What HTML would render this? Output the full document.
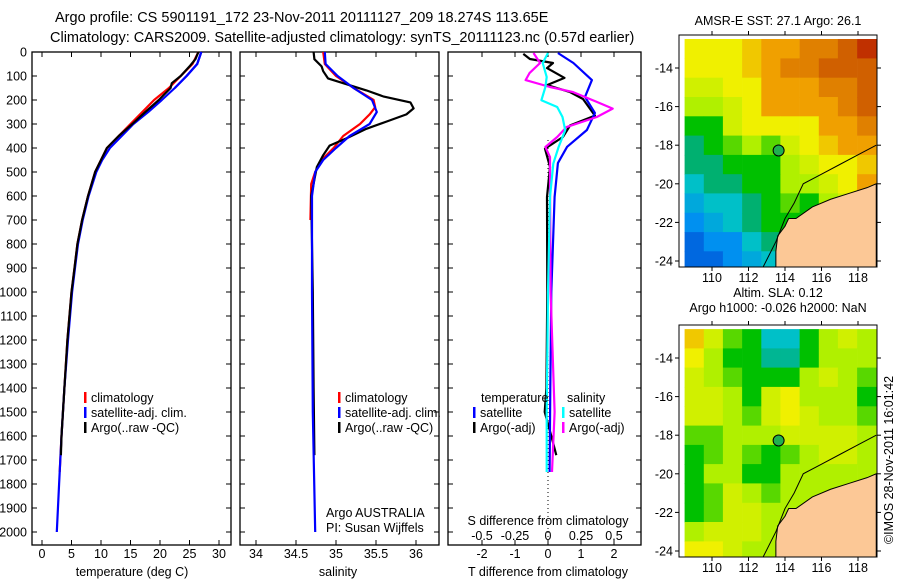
<!DOCTYPE html>
<html><head><meta charset="utf-8"><style>
body{margin:0;background:#fff}
svg{display:block;font-family:"Liberation Sans",sans-serif;font-size:12.5px}
</style></head><body>
<svg id="fig" width="900" height="580" viewBox="0 0 900 580" xmlns="http://www.w3.org/2000/svg">
<rect width="900" height="580" fill="#fff"/>
<text x="55" y="22" font-size="14.5">Argo profile: CS 5901191_172 23-Nov-2011 20111127_209 18.274S 113.65E</text>
<text x="50" y="42" font-size="14.5">Climatology: CARS2009. Satellite-adjusted climatology: synTS_20111123.nc (0.57d earlier)</text>
<g id="plots"></g>
<text transform="translate(893,460) rotate(-90)" text-anchor="middle" font-size="12.5">©IMOS 28-Nov-2011 16:01:42</text>
</svg>
<script>
// ---- profile data ----
const tClimDepth=[0,50,100,150,200,250,300,350,400,450,500,600,700,800,900,1000,1200,1400,1600,1750];
const tClim=[26.5,25.5,23.5,21.5,19,17,15,13,11,10,9,7.8,6.8,6,5.5,5,4.3,3.8,3.3,3.0];
const tSatDepth=[0,50,100,150,200,250,300,350,400,450,500,600,700,800,900,1000,1200,1400,1600,1800,2000];
const tSat=[27,26.3,24.5,22.5,20.3,18,15.5,13.5,11.5,10.2,9.2,7.9,6.9,6.1,5.6,5.1,4.4,3.8,3.3,2.9,2.5];
const tArgoDepth=[0,30,60,100,130,150,200,250,300,350,400,450,500,600,700,800,900,1000,1200,1400,1600,1680];
const tArgo=[26.5,26,25,23.5,22,21.8,19.8,17.5,15.3,13,11,10,9,7.8,6.8,6,5.5,5,4.3,3.8,3.3,3.2];

const sClimDepth=[0,50,100,150,200,230,260,300,350,400,450,500,550,700];
const sClim=[34.84,34.86,35.0,35.22,35.47,35.49,35.42,35.3,35.09,34.97,34.82,34.74,34.69,34.68];
const sSatDepth=[0,50,100,150,200,250,300,350,400,450,500,600,1000,1500,2000];
const sSat=[34.86,34.87,35.02,35.22,35.45,35.51,35.42,35.17,35.0,34.84,34.74,34.7,34.7,34.71,34.74];
const sArgoDepth=[0,30,60,80,110,130,160,185,210,235,260,290,320,360,390,430,480,600,1000,1400,1680];
const sArgo=[34.72,34.73,34.82,34.84,34.9,35.09,35.38,35.59,35.93,35.97,35.88,35.63,35.38,35.13,34.92,34.84,34.76,34.69,34.71,34.72,34.73];

const dTSatDepth=[4,46,117,187,254,325,395,463,604,1000,1400,1750];
const dTSat=[0.3,0.77,1.33,1.12,1.42,1.18,0.58,0.3,0.2,0.1,0.07,0.05];
const dTArgoDepth=[8,29,46,67,108,138,167,196,265,306,354,403,479,604,1000,1400,1500,1600,1680];
const dTArgo=[-0.75,-0.55,0.15,-0.03,0.5,-0.03,0.67,1.06,1.42,0.67,0.45,-0.09,0.06,-0.03,-0.02,-0.05,-0.1,0.1,0.25];
const dSArgoDepth=[4,46,88,117,146,167,208,236,271,313,354,396,438,535,1000,1500,1750];
const dSArgo=[-0.11,-0.06,-0.14,-0.17,0.015,0.19,0.37,0.49,0.37,0.14,0.07,-0.02,0.015,0.015,0.02,0.05,0.03];
const dSSatDepth=[4,46,104,146,201,229,271,326,396,465,604,1000,1500,1750];
const dSSat=[0,-0.04,-0.01,-0.02,-0.05,0.07,0.11,0.13,0.08,0.04,0.015,0,-0.01,-0.01];

const depthTicks=[0,100,200,300,400,500,600,700,800,900,1000,1100,1200,1300,1400,1500,1600,1700,1800,1900,2000];
const tTicks=[0,5,10,15,20,25,30];
const sTicks=[34,34.5,35,35.5,36];
const dTTicks=[-2,-1,0,1,2];
const dSTicks=[-0.5,-0.25,0,0.25,0.5];
const dSTickLabels=["-0.5","-0.25","0","0.25","0.5"];

// ---- map data (coarse grids, rows lat -13..-24, cols lon 108.5..119) ----
const sstGrid=[
[5,5,5,5.5,6,6,6.5,6.5,7,7.5],
[5,5,5,5.5,6,6.5,6.5,7,7,7],
[4.5,4.5,5,5,6,6,6,6.5,6.5,7],
[4,4,4.5,5,6,6,6,6,6.5,7],
[3,3,4.5,5,5,5,5,6,6,6.5],
[2.5,3,3.5,4,3.5,4.5,5,5.5,6,6],
[2.5,2.5,3,3,3,4,4.5,5,5,5.5],
[2,2.5,2.5,3,3,4,4,4.5,5,6],
[1.5,2,2,2.5,3,3.5,3,4,4.5,5],
[1,1.5,2,2.5,3,3,3,4,4,4],
[0.5,1,1,2,2.5,3,3,3,3,3],
[0.5,0.5,1,1.5,2,2.5,3,3,3,3]];
const slaGrid=[
[5.5,4.5,3.5,3,2,2,3,4,4.5,4],
[5,4,3,3,2.3,2.3,3,4,4,4],
[4.5,4,3.5,3,3,3,4,4.5,4,3.5],
[4.5,4.5,4,3,4.5,5,4,4,4,3],
[4.5,4.5,4,3.5,4.5,5,4.5,4,4,3.5],
[3.5,3.5,4,4,4,4.5,4.5,4.5,4.5,4],
[3,3.5,4,3.5,3,3.5,4,4.5,4.5,4],
[3,4,4,3,3,4,4,4,4,4],
[3,3.5,4.5,4,3.5,4,4,4,4,4],
[3,3.5,4.5,4.5,4,4,4,4,4,4],
[4,4.5,4.5,4.5,4,4,4,4,4,4],
[5,5,4.5,4,4,4,4,4,4,4]];
const coastLon=[113.5,113.5,113.6,114.0,114.2,114.6,115.5,116.5,117.5,118.5,119,119];
const coastLat=[-24.5,-23.5,-22.7,-22.2,-21.8,-21.8,-21.2,-20.8,-20.5,-20.2,-20.0,-24.5];
const isoLon=[112.7,113.5,114,114.5,115,116,117,118,119];
const isoLat=[-24.5,-23,-21.8,-21,-20,-19.5,-19,-18.5,-18];
const argoLon=113.65, argoLat=-18.274;
const lonTicks=[110,112,114,116,118];
const latTicks=[-14,-16,-18,-20,-22,-24];

const NS="http://www.w3.org/2000/svg";
const G=document.getElementById('plots');
function mk(tag,attrs,parent){const e=document.createElementNS(NS,tag);for(const k in attrs)e.setAttribute(k,attrs[k]);(parent||G).appendChild(e);return e;}
function txt(s,x,y,anchor,parent){const t=mk('text',{x:x,y:y,'text-anchor':anchor||'start'},parent);t.textContent=s;return t;}

const Y0=52,Y1=545;
const yD=d=>Y0+0.24*d;
const xT=v=>42+5.9*v;
const xS=v=>256+80*(v-34);
const xDT=v=>548+33*v;
const xDS=v=>548+132*v;

function panel(name,x0,x1){
  const r=mk('rect',{x:x0,y:Y0,width:x1-x0,height:Y1-Y0,fill:'none',stroke:'#000','stroke-width':1.3});
  
  
  depthTicks.forEach(d=>{const y=yD(d);
    mk('line',{x1:x0,x2:x0+5,y1:y,y2:y,stroke:'#000'});
    mk('line',{x1:x1-5,x2:x1,y1:y,y2:y,stroke:'#000'});});
}
function xticks(vals,f,y){vals.forEach(v=>{const x=f(v);
  mk('line',{x1:x,x2:x,y1:Y0,y2:Y0+5,stroke:'#000'});
  mk('line',{x1:x,x2:x,y1:Y1-5,y2:Y1,stroke:'#000'});});}
function line(name,depths,vals,fx,color){
  const pts=depths.map((d,i)=>fx(vals[i]).toFixed(1)+','+yD(d).toFixed(1)).join(' ');
  const p=mk('polyline',{points:pts,fill:'none',stroke:color,'stroke-width':2.2,'stroke-linejoin':'round'});
  
  
}
function legend(items,xb,y0){items.forEach((it,i)=>{const y=y0+i*15;
  mk('rect',{x:xb,y:y-10,width:2.5,height:11,fill:it[1]});
  const t=txt(it[0],xb+7,y);
  
  });}

// panel 1
panel('temperature-panel',32,231);
depthTicks.forEach(d=>{const t=txt(String(d),27,yD(d)+4.5,'end');
  
  });
xticks(tTicks,xT);
tTicks.forEach(v=>{const t=txt(String(v),xT(v),558,'middle');
  
  });
txt('temperature (deg C)',132,576,'middle');
line('temperature-climatology',tClimDepth,tClim,xT,'#f00');
line('temperature-satellite',tSatDepth,tSat,xT,'#00f');
line('temperature-argo',tArgoDepth,tArgo,xT,'#000');
line('temperature-satellite-top',tSatDepth.slice(0,4),tSat.slice(0,4),xT,'#00f');
legend([['climatology','#f00'],['satellite-adj. clim.','#00f'],['Argo(..raw -QC)','#000']],84,402);

// panel 2
panel('salinity-panel',240,439);
xticks(sTicks,xS);
sTicks.forEach(v=>{const t=txt(String(v),xS(v),558,'middle');
  
  });
txt('salinity',338,576,'middle');
line('salinity-climatology',sClimDepth,sClim,xS,'#f00');
line('salinity-argo',sArgoDepth,sArgo,xS,'#000');
line('salinity-satellite',sSatDepth,sSat,xS,'#00f');
legend([['climatology','#f00'],['satellite-adj. clim.','#00f'],['Argo(..raw -QC)','#000']],338,402);
txt('Argo AUSTRALIA',326,517);
txt('PI: Susan Wijffels',326,532);

// panel 3
panel('difference-panel',448,641);
xticks(dTTicks,xDT);
mk('line',{x1:548,x2:548,y1:140,y2:Y1,stroke:'#000','stroke-dasharray':'1,3'});
line('t-diff-argo',dTArgoDepth,dTArgo,xDT,'#000');
line('t-diff-satellite',dTSatDepth,dTSat,xDT,'#00f');
line('s-diff-argo',dSArgoDepth,dSArgo,xDS,'#f0f');
line('s-diff-satellite',dSSatDepth,dSSat,xDS,'#0ff');
dTTicks.forEach(v=>{const t=txt(String(v),xDT(v),558,'middle');
  
  });
dSTicks.forEach((v,i)=>{const t=txt(dSTickLabels[i],xDS(v),540,'middle');
  
  });
txt('S difference from climatology',548,525,'middle');
txt('T difference from climatology',548,576,'middle');
txt('temperature',481,402);
txt('salinity',567,402);
legend([['satellite','#00f'],['Argo(-adj)','#000']],473,417);
legend([['satellite','#0ff'],['Argo(-adj)','#f0f']],562,417);

// ---- maps ----
const palette=[[0,[0,64,208]],[1,[0,144,240]],[2,[0,192,200]],[2.5,[0,176,112]],[3,[0,192,0]],[4,[176,240,0]],[5,[240,240,0]],[6,[240,160,0]],[7,[208,96,0]],[8,[176,0,0]]];
function col(v){for(let i=0;i<palette.length-1;i++){const a=palette[i],b=palette[i+1];
  if(v<=b[0]){const t=(v-a[0])/(b[0]-a[0]);const c=a[1].map((x,j)=>Math.round(x+(b[1][j]-x)*Math.max(0,t)));return 'rgb('+c+')';}}
  return 'rgb('+palette[palette.length-1][1]+')';}
function map(name,top,grid,titles){
  const L=679,R=877,T=top,B=top+232;
  const xL=lon=>712+(lon-110)*18.25;
  const yL=lat=>(top+33)+(-14-lat)*19.3;
  const g=mk('g',{});
  
  
  const cid='clip'+top;
  const cp=mk('clipPath',{id:cid},g);mk('rect',{x:L,y:T,width:R-L,height:B-T},cp);
  const inner=mk('g',{'clip-path':'url(#'+cid+')'},g);
  grid.forEach((row,i)=>row.forEach((v,j)=>{
    const lon0=108.5+j*1.05, lat0=-12.5-i*1.0;
    const c=mk('rect',{x:xL(lon0).toFixed(1),y:yL(lat0).toFixed(1),width:19.5,height:20,fill:col(v)},inner);
    
    }));
  const land=mk('polygon',{points:coastLon.map((lo,i)=>xL(lo)+','+yL(coastLat[i])).join(' '),fill:'#fcc896',stroke:'#000','stroke-width':1},inner);
  
  
  mk('polyline',{points:isoLon.map((lo,i)=>xL(lo)+','+yL(isoLat[i])).join(' '),fill:'none',stroke:'#000','stroke-width':1},inner);
  const m=mk('circle',{cx:xL(argoLon),cy:yL(argoLat),r:5.5,fill:'#20b050',stroke:'#000'},g);
  
  
  mk('rect',{x:L,y:T,width:R-L,height:B-T,fill:'none',stroke:'#000'},g);
  lonTicks.forEach(lo=>{const x=xL(lo);mk('line',{x1:x,x2:x,y1:T-4,y2:T,stroke:'#000'},g);mk('line',{x1:x,x2:x,y1:B,y2:B+4,stroke:'#000'},g);
    const t=txt(String(lo),x,B+15,'middle',g);
    
    });
  latTicks.forEach(la=>{const y=yL(la);mk('line',{x1:L-4,x2:L,y1:y,y2:y,stroke:'#000'},g);mk('line',{x1:R,x2:R+4,y1:y,y2:y,stroke:'#000'},g);
    const t=txt(String(la),673,y+4.5,'end',g);
    
    });
  titles.forEach((s,i)=>{const t=txt(s,778,titles.length==1?T-10:T-28+i*15,'middle',g);
    
    });
}
map('sst-map',35,sstGrid,['AMSR-E SST: 27.1 Argo: 26.1']);
map('sla-map',325,slaGrid,['Altim. SLA: 0.12','Argo h1000: -0.026 h2000: NaN']);
</script>
</body></html>
